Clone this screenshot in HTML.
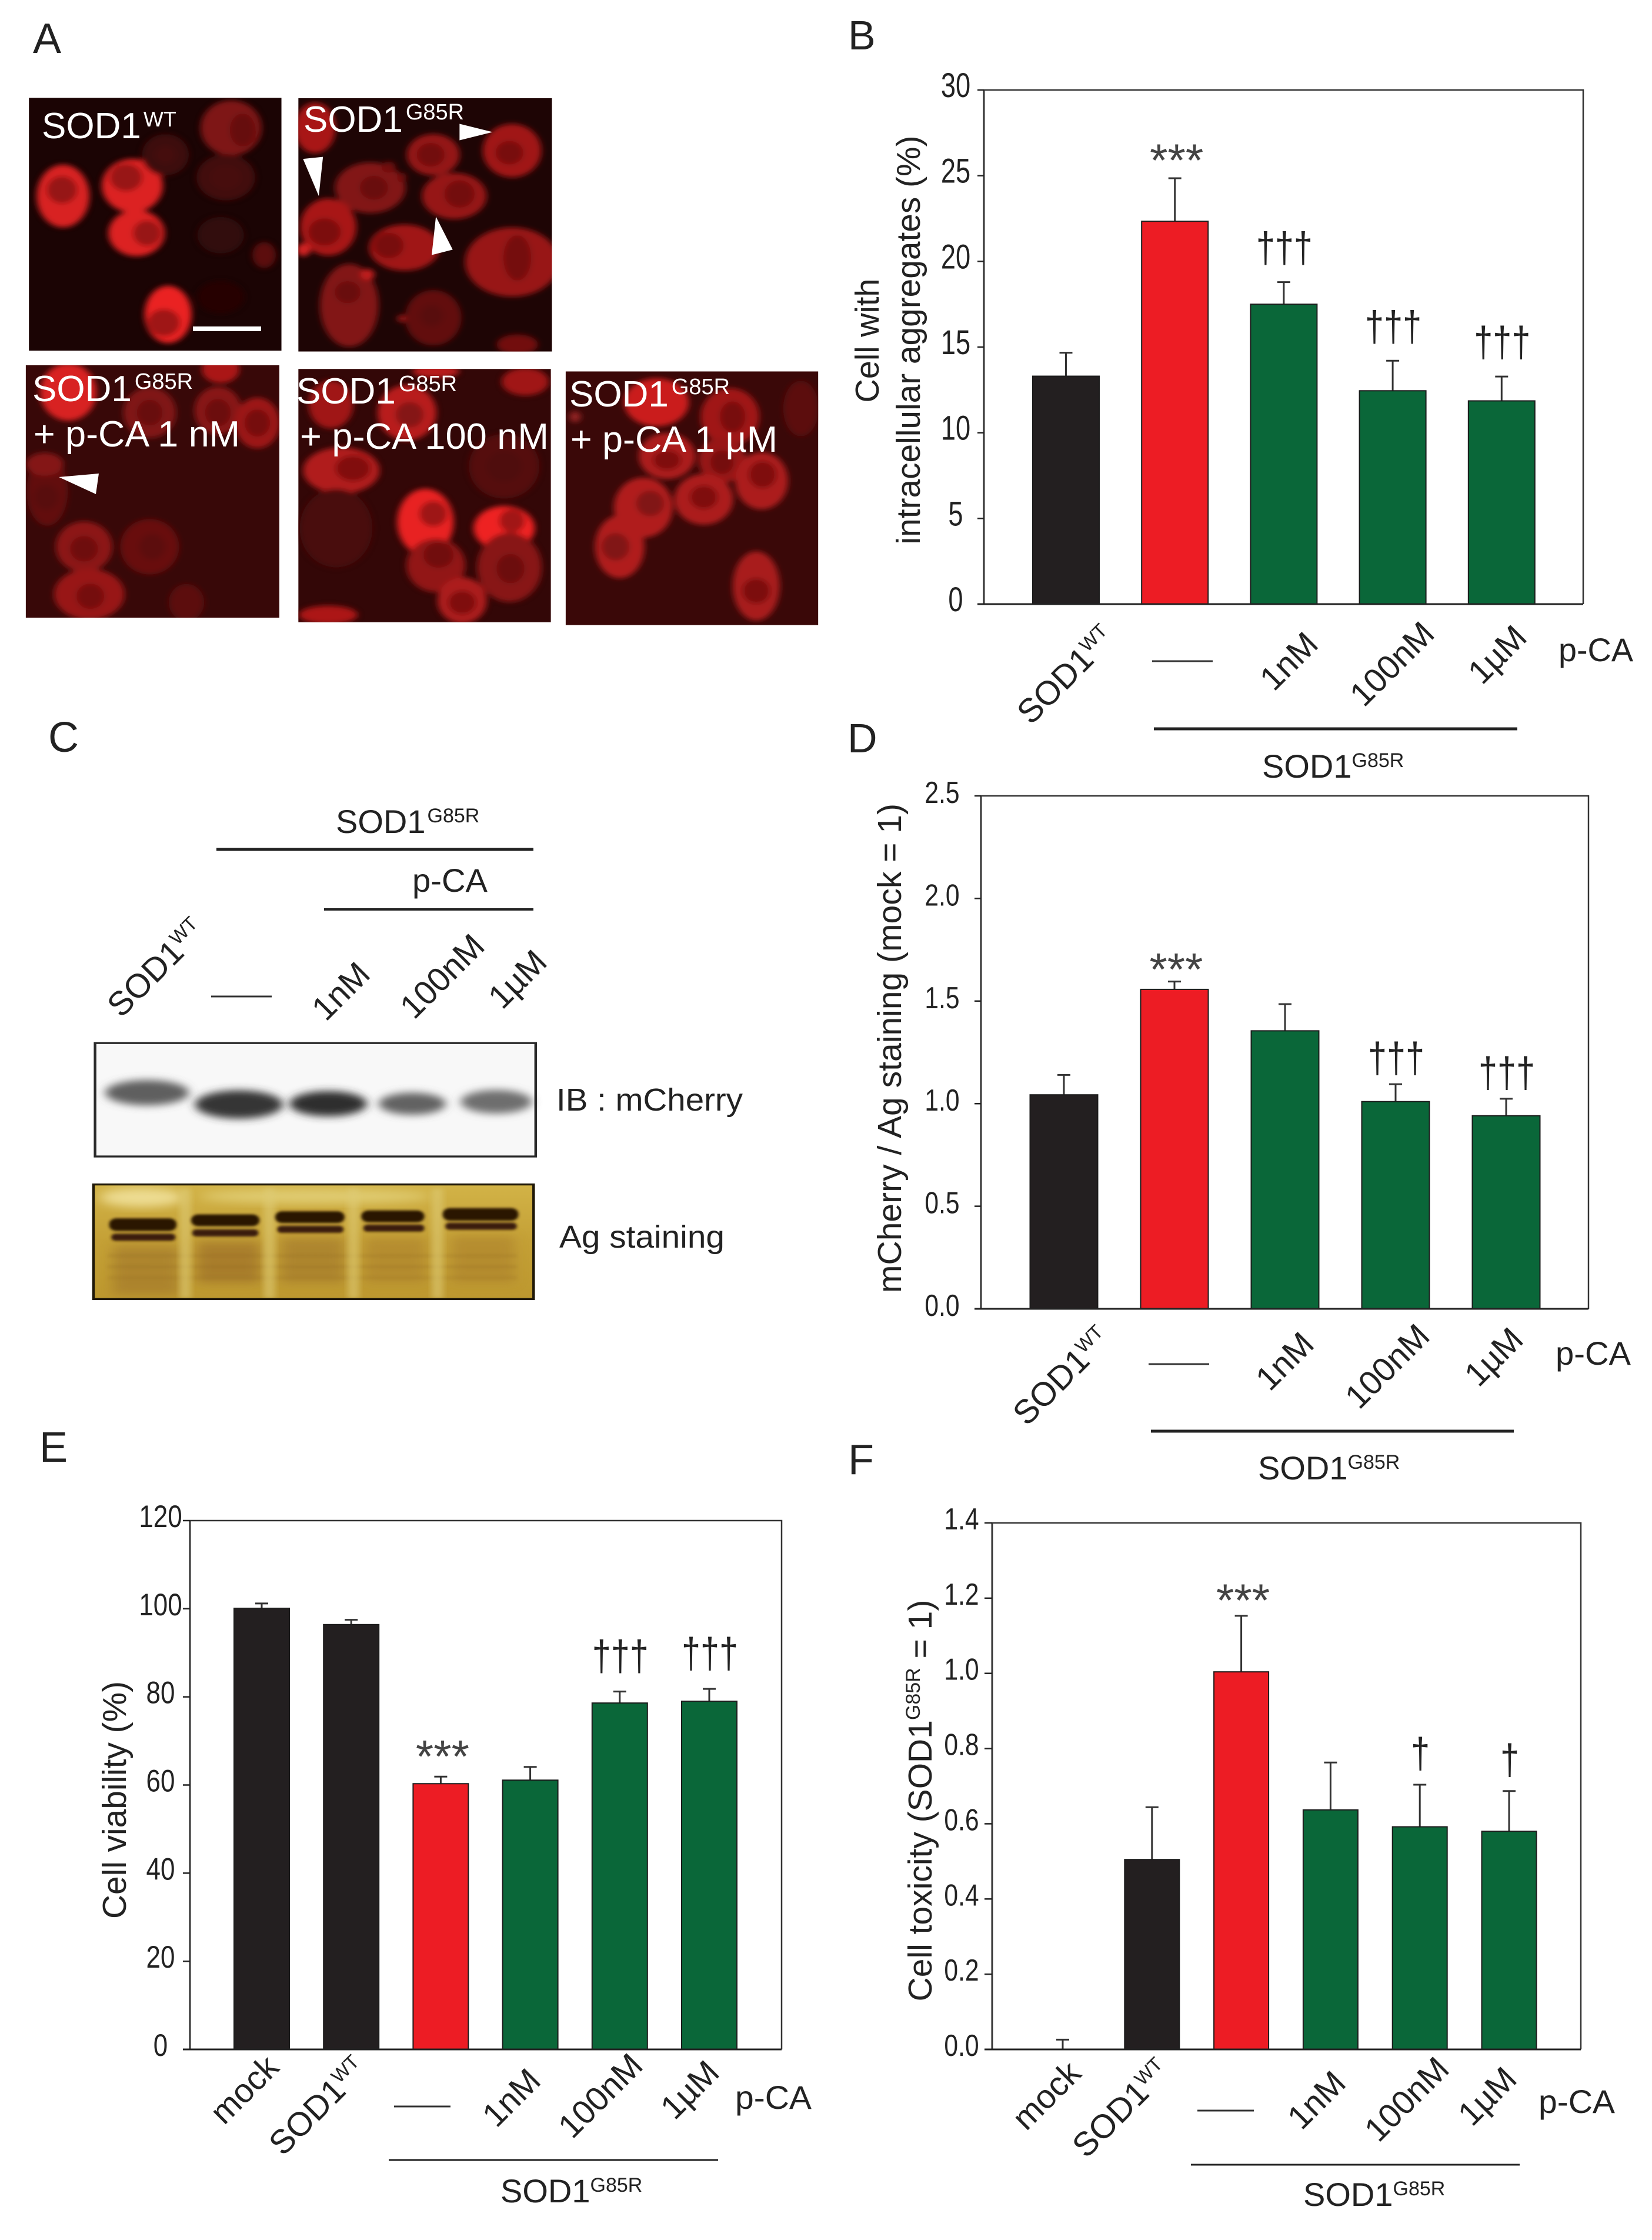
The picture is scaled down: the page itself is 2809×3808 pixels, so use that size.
<!DOCTYPE html>
<html lang="en">
<head>
<meta charset="utf-8">
<title>p-CA effects on SOD1 G85R aggregates and toxicity</title>
<style>
html,body{margin:0;padding:0;background:#fff;}
svg{display:block;}
text{font-family:"Liberation Sans",sans-serif;fill:#222;}
</style>
</head>
<body>
<svg id="fig" xmlns="http://www.w3.org/2000/svg" width="2809" height="3808" viewBox="0 0 2809 3808">
<defs>
<filter id="cellBlur" x="-30%" y="-30%" width="160%" height="160%"><feGaussianBlur stdDeviation="6"/></filter>
<filter id="bandBlur" x="-30%" y="-60%" width="160%" height="220%"><feGaussianBlur stdDeviation="9 10"/></filter>
<filter id="sharpBlur" x="-10%" y="-60%" width="120%" height="220%"><feGaussianBlur stdDeviation="3"/></filter>
<filter id="wideBlur" x="-30%" y="-30%" width="160%" height="160%"><feGaussianBlur stdDeviation="12"/></filter>
<clipPath id="clip1"><rect x="55" y="237" width="481" height="613"/></clipPath>
<clipPath id="clip2"><rect x="568" y="238" width="483" height="614"/></clipPath>
<clipPath id="clip3"><rect x="49" y="885" width="483" height="612"/></clipPath>
<clipPath id="clip4"><rect x="568" y="894" width="481" height="614"/></clipPath>
<clipPath id="clip5"><rect x="1077" y="900" width="481" height="615"/></clipPath>
<clipPath id="clipAg"><rect x="178" y="1215" width="838" height="291"/></clipPath>
<linearGradient id="agGrad" x1="0" y1="0" x2="0" y2="1"><stop offset="0" stop-color="#d2b347"/><stop offset=".5" stop-color="#c4a036"/><stop offset="1" stop-color="#bd982f"/></linearGradient>
</defs>

<!-- Panel letters -->
<text x="56" y="90" font-size="72">A</text>
<text x="1442" y="84" font-size="70">B</text>
<text x="82" y="1278" font-size="72">C</text>
<text x="1441" y="1279" font-size="70">D</text>
<text x="67" y="2485" font-size="72">E</text>
<text x="1442" y="2506" font-size="72">F</text>

<!-- Panel A micrographs -->
<g transform="scale(.893 .7015)">
  <g clip-path="url(#clip1)"><rect x="55" y="237" width="481" height="613" fill="#1b0404"/><g id="cells1" filter="url(#cellBlur)"></g></g>
  <g clip-path="url(#clip2)"><rect x="568" y="238" width="483" height="614" fill="#1e0505"/><g id="cells2" filter="url(#cellBlur)"></g></g>
  <g clip-path="url(#clip3)"><rect x="49" y="885" width="483" height="612" fill="#380808"/><g id="cells3" filter="url(#cellBlur)"></g></g>
  <g clip-path="url(#clip4)"><rect x="568" y="894" width="481" height="614" fill="#330707"/><g id="cells4" filter="url(#cellBlur)"></g></g>
  <g clip-path="url(#clip5)"><rect x="1077" y="900" width="481" height="615" fill="#3a0808"/><g id="cells5" filter="url(#cellBlur)"></g></g>
  <polygon points="875,300 875,340 938,320" fill="#fff"/>
  <polygon points="577,385 615,380 607,475" fill="#fff"/>
  <polygon points="822,618 862,605 830,525" fill="#fff"/>
</g>
<polygon points="100,811 168,805 163,840" fill="#fff"/>
<rect x="328" y="555" width="116" height="8" fill="#fff"/>

<text x="71" y="235" font-size="62" style="fill:#fff">SOD1<tspan font-size="36" dy="-20" dx="4" style="fill:#fff">WT</tspan></text>
<text x="516" y="224" font-size="62" style="fill:#fff">SOD1<tspan font-size="38" dy="-21" dx="5" style="fill:#fff">G85R</tspan></text>
<text x="55" y="682" font-size="62" style="fill:#fff">SOD1<tspan font-size="38" dy="-21" dx="5" style="fill:#fff">G85R</tspan></text>
<text x="57" y="759" font-size="62" textLength="351" lengthAdjust="spacingAndGlyphs" style="fill:#fff">+ p-CA 1 nM</text>
<text x="504" y="686" font-size="62" style="fill:#fff">SOD1<tspan font-size="38" dy="-21" dx="5" style="fill:#fff">G85R</tspan></text>
<text x="510" y="763" font-size="62" textLength="423" lengthAdjust="spacingAndGlyphs" style="fill:#fff">+ p-CA 100 nM</text>
<text x="968" y="691" font-size="62" style="fill:#fff">SOD1<tspan font-size="38" dy="-21" dx="5" style="fill:#fff">G85R</tspan></text>
<text x="970" y="768" font-size="62" textLength="352" lengthAdjust="spacingAndGlyphs" style="fill:#fff">+ p-CA 1 µM</text>

<!-- Panel C blots -->
<text x="571" y="1416" font-size="56">SOD1<tspan font-size="34" dy="-18" dx="3">G85R</tspan></text>
<line x1="368" y1="1444" x2="907" y2="1444" stroke="#222" stroke-width="5"/>
<text x="701" y="1516" font-size="56" textLength="128" lengthAdjust="spacingAndGlyphs">p-CA</text>
<line x1="551" y1="1546" x2="907" y2="1546" stroke="#222" stroke-width="4"/>
<text transform="translate(206 1732) rotate(-45)" font-size="57">SOD1<tspan font-size="33" dy="-20">WT</tspan></text>
<line x1="359" y1="1694" x2="462" y2="1694" stroke="#333" stroke-width="3"/>
<text transform="translate(554 1738) rotate(-45)" font-size="57">1nM</text>
<text transform="translate(704 1735) rotate(-45)" font-size="57">100nM</text>
<text transform="translate(854 1718) rotate(-45)" font-size="57">1µM</text>

<g transform="translate(0 1200) scale(.893 .6696)">
  <rect x="181" y="856" width="839" height="288" fill="#f8f8f8"/>
  <ellipse cx="280" cy="982" rx="80" ry="32" fill="#5e5e5e" filter="url(#bandBlur)"/>
  <ellipse cx="455" cy="1012" rx="84" ry="36" fill="#363636" filter="url(#bandBlur)"/>
  <ellipse cx="625" cy="1010" rx="74" ry="32" fill="#2e2e2e" filter="url(#bandBlur)"/>
  <ellipse cx="785" cy="1010" rx="64" ry="28" fill="#626262" filter="url(#bandBlur)"/>
  <ellipse cx="945" cy="1005" rx="68" ry="30" fill="#6e6e6e" filter="url(#bandBlur)"/>
  <rect x="181" y="856" width="839" height="288" fill="none" stroke="#2a2a2a" stroke-width="5"/>
</g>
<text x="946" y="1888" font-size="54" textLength="317" lengthAdjust="spacingAndGlyphs">IB : mCherry</text>

<g transform="translate(0 1200) scale(.893 .6696)">
  <g clip-path="url(#clipAg)">
    <rect x="178" y="1215" width="838" height="291" fill="url(#agGrad)"/>
    <ellipse cx="270" cy="1248" rx="80" ry="24" fill="#eddc92" filter="url(#wideBlur)"/>
    <ellipse cx="600" cy="1245" rx="220" ry="18" fill="#e0cc72" filter="url(#wideBlur)"/>
    <rect x="215" y="1370" width="125" height="125" fill="#a0762a" opacity=".6" filter="url(#wideBlur)"/>
    <rect x="375" y="1360" width="120" height="105" fill="#9a6a26" opacity=".62" filter="url(#wideBlur)"/>
    <rect x="535" y="1350" width="120" height="115" fill="#a0762a" opacity=".6" filter="url(#wideBlur)"/>
    <rect x="695" y="1350" width="115" height="115" fill="#a87c2c" opacity=".5" filter="url(#wideBlur)"/>
    <rect x="860" y="1345" width="120" height="120" fill="#a87c2c" opacity=".5" filter="url(#wideBlur)"/>
    <rect x="205" y="1392" width="780" height="8" fill="#8a6420" opacity=".16" filter="url(#sharpBlur)"/>
    <rect x="205" y="1420" width="780" height="8" fill="#8a6420" opacity=".16" filter="url(#sharpBlur)"/>
    <rect x="205" y="1448" width="780" height="8" fill="#8a6420" opacity=".14" filter="url(#sharpBlur)"/>
    <rect x="342" y="1225" width="22" height="280" fill="#decb74" opacity=".6" filter="url(#cellBlur)"/>
    <rect x="502" y="1225" width="22" height="280" fill="#decb74" opacity=".6" filter="url(#cellBlur)"/>
    <rect x="662" y="1225" width="22" height="280" fill="#decb74" opacity=".6" filter="url(#cellBlur)"/>
    <rect x="822" y="1225" width="22" height="280" fill="#decb74" opacity=".6" filter="url(#cellBlur)"/>
    <rect x="208" y="1301" width="128" height="32" rx="14" fill="#2a1405" filter="url(#sharpBlur)"/>
    <rect x="364" y="1291" width="130" height="30" rx="14" fill="#2a1405" filter="url(#sharpBlur)"/>
    <rect x="524" y="1283" width="132" height="30" rx="14" fill="#2a1405" filter="url(#sharpBlur)"/>
    <rect x="688" y="1281" width="120" height="30" rx="14" fill="#2a1405" filter="url(#sharpBlur)"/>
    <rect x="843" y="1275" width="144" height="32" rx="14" fill="#2a1405" filter="url(#sharpBlur)"/>
    <rect x="212" y="1340" width="122" height="18" rx="8" fill="#3a1d08" filter="url(#sharpBlur)"/>
    <rect x="366" y="1329" width="126" height="18" rx="8" fill="#3a1d08" filter="url(#sharpBlur)"/>
    <rect x="528" y="1320" width="126" height="18" rx="8" fill="#3a1d08" filter="url(#sharpBlur)"/>
    <rect x="692" y="1317" width="116" height="18" rx="8" fill="#3a1d08" filter="url(#sharpBlur)"/>
    <rect x="848" y="1312" width="136" height="18" rx="8" fill="#3a1d08" filter="url(#sharpBlur)"/>
  </g>
  <rect x="178" y="1215" width="838" height="291" fill="none" stroke="#1f1808" stroke-width="5"/>
</g>
<text x="951" y="2121" font-size="54" textLength="281" lengthAdjust="spacingAndGlyphs">Ag staining</text>

<g id="charts"></g>
</svg>

<script>
// ---- Chart B data: cells with intracellular aggregates ----
const categoriesB = ['SOD1WT', '—', '1nM', '100nM', '1µM'];
const valuesB = [13.3, 22.34, 17.5, 12.45, 11.86];
const errorTopsB = [14.67, 24.85, 18.79, 14.2, 13.28];
const statMarksB = ['', '***', '†††', '†††', '†††'];
const tickLabelsB = ['0', '5', '10', '15', '20', '25', '30'];
// ---- Chart D data: mCherry / Ag staining ----
const categoriesD = ['SOD1WT', '—', '1nM', '100nM', '1µM'];
const valuesD = [1.043, 1.557, 1.355, 1.01, 0.941];
const errorTopsD = [1.14, 1.595, 1.485, 1.095, 1.024];
const statMarksD = ['', '***', '', '†††', '†††'];
const tickLabelsD = ['0.0', '0.5', '1.0', '1.5', '2.0', '2.5'];
// ---- Chart E data: cell viability ----
const categoriesE = ['mock', 'SOD1WT', '—', '1nM', '100nM', '1µM'];
const valuesE = [100.1, 96.4, 60.3, 61.1, 78.6, 79];
const errorTopsE = [101.2, 97.5, 61.9, 64.1, 81.2, 81.8];
const statMarksE = ['', '', '***', '', '†††', '†††'];
const tickLabelsE = ['0', '20', '40', '60', '80', '100', '120'];
// ---- Chart F data: cell toxicity ----
const categoriesF = ['mock', 'SOD1WT', '—', '1nM', '100nM', '1µM'];
const valuesF = [0, 0.505, 1.004, 0.637, 0.592, 0.58];
const errorTopsF = [0.026, 0.644, 1.153, 0.763, 0.704, 0.687];
const statMarksF = ['', '', '***', '', '†', '†'];
const tickLabelsF = ['0.0', '0.2', '0.4', '0.6', '0.8', '1.0', '1.2', '1.4'];

const BLACK = '#231f20', RED = '#ed1c24', GREEN = '#0a6739';
const NS = 'http://www.w3.org/2000/svg';

function mk(tag, attrs, parent) {
  const el = document.createElementNS(NS, tag);
  for (const k in attrs) el.setAttribute(k, attrs[k]);
  
  if (parent) parent.appendChild(el);
  return el;
}

function addSuper(el, str, size, dy) {
  const sup = document.createElementNS(NS, 'tspan');
  sup.setAttribute('font-size', size);
  sup.setAttribute('dy', dy);
  
  
  sup.textContent = str;
  el.appendChild(sup);
}

function setLabel(el, str, supSize, supDy) {
  if (str === 'SOD1WT' || str === 'SOD1G85R') {
    el.textContent = 'SOD1';
    addSuper(el, str.slice(4), supSize, supDy);
  } else {
    el.textContent = str;
  }
}

function drawChart(cfg) {
  const root = document.getElementById('charts');
  const g = mk('g', {}, root);
  
  const f = cfg.frame;
  const maxV = Number(cfg.ticks[cfg.ticks.length - 1]);
  const minV = Number(cfg.ticks[0]);
  const yOf = v => f.b - (v - minV) / (maxV - minV) * (f.b - f.t);
  const xOf = i => cfg.c0 + i * cfg.step;

  // bars
  cfg.values.forEach((v, i) => {
    const label = cfg.categories[i];
    const color = label === '—' ? RED : (/nM|µM/.test(label) ? GREEN : BLACK);
    const et = yOf(cfg.errorTops[i]);
    const top = yOf(v);
    const eb = mk('line', { x1: xOf(i), x2: xOf(i), y1: et, y2: top, stroke: '#333', 'stroke-width': 3 }, g);
    
    const cap = mk('line', { x1: xOf(i) - 11, x2: xOf(i) + 11, y1: et, y2: et, stroke: '#333', 'stroke-width': 3 }, g);
    
    if (v > minV) {
      const bar = mk('rect', { x: xOf(i) - cfg.bw / 2, y: top, width: cfg.bw, height: f.b - top, fill: color, stroke: '#1c1c1c', 'stroke-width': 2 }, g);
      
    }
    const mark = cfg.marks[i];
    if (mark) {
      const isStar = mark[0] === '*';
      const cy = et - (isStar ? cfg.starGap : cfg.daggerGap);
      const t = mk('text', isStar
        ? { x: xOf(i) + 3, y: cy + 46, 'text-anchor': 'middle', 'font-size': 78 }
        : { transform: `translate(${xOf(i) + 1} ${cy + 18}) scale(.8 1)`, 'text-anchor': 'middle', 'font-size': 72 }, g);
      
      t.style.fill = isStar ? '#444' : '#222';
      t.textContent = mark;
    }
  });

  // frame
  const fr = mk('path', { d: `M${f.l} ${f.t}H${f.r}V${f.b}`, fill: 'none', stroke: '#333', 'stroke-width': 2.5 }, g);
  
  const ya = mk('line', { x1: f.l, x2: f.l, y1: f.t, y2: f.b, stroke: '#333', 'stroke-width': 3 }, g);
  
  const xa = mk('line', { x1: cfg.tickLeft, x2: f.r, y1: f.b, y2: f.b, stroke: '#222', 'stroke-width': 3 }, g);
  

  // ticks
  cfg.ticks.forEach(lbl => {
    const y = yOf(Number(lbl));
    const tick = mk('line', { x1: cfg.tickLeft, x2: f.l, y1: y, y2: y, stroke: '#222', 'stroke-width': 2.5 }, g);
    
    const t = mk('text', {
      transform: `translate(${cfg.tickX} ${y + cfg.tickBase}) scale(${cfg.tickSx} 1)`,
      'text-anchor': 'middle', 'font-size': cfg.tickFont
    }, g);
    
    t.textContent = lbl;
  });

  // y title
  cfg.yTitle.forEach(line => {
    const attrs = {
      transform: `translate(${line.x} ${line.cy}) rotate(-90)`,
      'text-anchor': 'middle', 'font-size': 57
    };
    if (line.len) { attrs.textLength = line.len; attrs.lengthAdjust = 'spacingAndGlyphs'; }
    const t = mk('text', attrs, g);
    
    t.textContent = line.text;
    if (line.sup) {
      addSuper(t, line.sup, 34, -20);
      const tail = document.createElementNS(NS, 'tspan');
      tail.setAttribute('dy', 20);
      
      
      tail.textContent = line.tail;
      t.appendChild(tail);
    }
  });

  // category labels
  cfg.categories.forEach((c, i) => {
    const a = cfg.labelAnchors[i];
    if (c === '—') {
      const d = mk('line', { x1: a[0], x2: a[1], y1: a[2], y2: a[2], stroke: '#333', 'stroke-width': 3 }, g);
      
    } else {
      const t = mk('text', { transform: `translate(${a[0]} ${a[1]}) rotate(-45)`, 'font-size': 57 }, g);
      
      setLabel(t, c, 33, -20);
    }
  });

  // p-CA label
  const p = cfg.pca;
  const pt = mk('text', { x: p.x, y: p.y, 'font-size': 56, textLength: p.len, lengthAdjust: 'spacingAndGlyphs' }, g);
  
  pt.textContent = 'p-CA';

  // group line + label
  const gl = cfg.group;
  const line = mk('line', { x1: gl.x1, x2: gl.x2, y1: gl.y, y2: gl.y, stroke: '#222', 'stroke-width': gl.w }, g);
  
  const gt = mk('text', { x: gl.tx, y: gl.ty, 'font-size': 56 }, g);
  
  setLabel(gt, 'SOD1G85R', 34, -18);
}

drawChart({
  name: 'chart-b-aggregates', categories: categoriesB, values: valuesB, errorTops: errorTopsB, marks: statMarksB, ticks: tickLabelsB,
  frame: { l: 1673, r: 2692, t: 153, b: 1027 }, c0: 1812.5, step: 185.2, bw: 113,
  tickLeft: 1662, tickX: 1625, tickBase: 12, tickFont: 58, tickSx: 0.78, starGap: 50, daggerGap: 52,
  yTitle: [{ text: 'Cell with', x: 1494, cy: 579, len: 211 }, { text: 'intracellular aggregates (%)', x: 1564, cy: 578, len: 695 }],
  labelAnchors: [[1753, 1234], [1959, 2062, 1124], [2166, 1177], [2319, 1204], [2520, 1166]],
  pca: { x: 2650, y: 1124, len: 127 },
  group: { x1: 1962, x2: 2580, y: 1239, w: 5, tx: 2146, ty: 1322 }
});
drawChart({
  name: 'chart-d-mcherry-ratio', categories: categoriesD, values: valuesD, errorTops: errorTopsD, marks: statMarksD, ticks: tickLabelsD,
  frame: { l: 1668, r: 2701, t: 1353, b: 2225 }, c0: 1809, step: 188, bw: 115,
  tickLeft: 1657, tickX: 1602, tickBase: 12, tickFont: 52, tickSx: 0.82, starGap: 40, daggerGap: 38,
  yTitle: [{ text: 'mCherry / Ag staining (mock = 1)', x: 1532, cy: 1782, len: 832 }],
  labelAnchors: [[1746, 2426], [1953, 2056, 2319], [2159, 2367], [2311, 2398], [2514, 2360]],
  pca: { x: 2645, y: 2320, len: 128 },
  group: { x1: 1957, x2: 2574, y: 2433, w: 5, tx: 2139, ty: 2515 }
});
drawChart({
  name: 'chart-e-viability', categories: categoriesE, values: valuesE, errorTops: errorTopsE, marks: statMarksE, ticks: tickLabelsE,
  frame: { l: 323, r: 1329, t: 2585, b: 3484 }, c0: 445, step: 152.2, bw: 94,
  tickLeft: 311, tickX: 273, tickBase: 11, tickFont: 53, tickSx: 0.83, starGap: 54, daggerGap: 54,
  yTitle: [{ text: 'Cell viability (%)', x: 214, cy: 3060, len: 404 }],
  labelAnchors: [[381, 3614], [481, 3667], [670, 766, 3581], [844, 3619], [973, 3638], [1147, 3606]],
  pca: { x: 1250, y: 3585, len: 130 },
  group: { x1: 661, x2: 1221, y: 3672, w: 3, tx: 851, ty: 3744 }
});
drawChart({
  name: 'chart-f-toxicity', categories: categoriesF, values: valuesF, errorTops: errorTopsF, marks: statMarksF, ticks: tickLabelsF,
  frame: { l: 1687, r: 2688, t: 2589, b: 3484 }, c0: 1807, step: 151.8, bw: 93,
  tickLeft: 1674, tickX: 1635, tickBase: 11, tickFont: 52, tickSx: 0.82, starGap: 46, daggerGap: 47,
  yTitle: [{ text: 'Cell toxicity (SOD1', sup: 'G85R', tail: ' = 1)', x: 1584, cy: 3061 }],
  labelAnchors: [[1745, 3624], [1847, 3671], [2036, 2132, 3588], [2213, 3623], [2344, 3644], [2503, 3617]],
  pca: { x: 2616, y: 3592, len: 130 },
  group: { x1: 2025, x2: 2584, y: 3680, w: 3, tx: 2216, ty: 3750 }
});

// ---- Micrograph artwork (illustrative, not chart data) ----
const photoCells = {
  cells1: [
    [120,475,45,68,'#d82020',118,460,26,30],[252,450,52,58,'#dc2222',240,430,28,30],[260,565,48,50,'#dc2020',280,565,24,28],
    [320,762,40,62,'#ea2424',312,782,28,30],[440,310,52,60,'#7e1414',462,315,22,36],[315,375,40,45,'#3e0808',315,375,18,20],
    [430,430,50,50,'#420909',430,430,26,26],[420,570,40,40,'#320707',0,0,0,0],[503,618,20,28,'#5c0d0d',0,0,0,0],[420,720,40,35,'#280505',0,0,0,0]
  ],
  cells2: [
    [600,310,35,55,'#a81616',0,0,0,0],[825,375,45,45,'#941414',820,375,24,26],[975,365,50,58,'#a01616',970,370,24,26],
    [705,455,60,55,'#821212',712,455,24,26],[865,475,55,50,'#961414',875,470,26,30],[625,550,48,62,'#a81818',618,562,28,30],
    [770,600,60,50,'#a01616',740,595,26,28],[975,635,80,75,'#981616',985,625,24,50],[665,740,50,90,'#821212',662,708,22,24],
    [825,770,48,60,'#621010',822,765,20,24],[985,835,35,22,'#721010',0,0,0,0],[578,605,12,14,'#d02020',0,0,0,0],
    [700,665,12,12,'#c01c1c',0,0,0,0],[740,405,12,12,'#701010',0,0,0,0],[765,430,8,10,'#701010',0,0,0,0],[765,772,8,8,'#901414',0,0,0,0]
  ],
  cells3: [
    [130,950,48,62,'#d82020',0,0,0,0],[285,1000,45,55,'#801212',285,1000,22,28],[415,995,40,52,'#881212',415,1000,22,30],
    [490,1025,38,55,'#9c1616',490,1025,22,30],[420,895,32,30,'#aa1616',0,0,0,0],[90,1190,35,75,'#621010',88,1205,22,28],
    [85,1125,32,25,'#841212',0,0,0,0],[160,1325,48,55,'#8c1414',160,1330,24,28],[285,1325,50,60,'#681010',290,1325,22,28],
    [170,1440,60,55,'#981616',172,1445,24,28],[355,1460,30,40,'#5c0e0e',0,0,0,0]
  ],
  cells4: [
    [650,1140,65,50,'#b01a1a',672,1135,30,28],[775,1000,50,60,'#b81e1e',780,1005,24,28],[630,980,38,52,'#a01616',0,0,0,0],
    [810,1265,48,72,'#e82424',825,1245,24,28],[960,1280,52,48,'#ee2424',975,1262,22,26],[830,1370,50,58,'#921616',835,1345,26,28],
    [970,1375,55,75,'#881414',972,1378,24,32],[880,1455,42,50,'#ac1a1a',880,1460,24,26],[960,1130,60,70,'#540e0e',960,1130,30,34],
    [640,1280,62,85,'#4a0a0a',0,0,0,0],[1000,925,40,30,'#a01616',0,0,0,0],[830,900,40,14,'#b81e1e',0,0,0,0],[625,1490,50,20,'#ac1616',0,0,0,0]
  ],
  cells5: [
    [1250,975,55,52,'#ca1e1e',0,0,0,0],[1390,1010,50,62,'#a01616',1395,1010,22,34],[1270,1105,48,50,'#ac1a1a',1270,1115,24,22],
    [1375,1115,40,50,'#981616',1375,1120,20,26],[1450,1165,45,62,'#ac1a1a',1452,1150,24,30],[1340,1210,50,55,'#ac1a1a',1340,1205,24,26],
    [1225,1230,50,65,'#b01c1c',1238,1220,24,28],[1180,1325,42,68,'#b01c1c',1172,1325,24,30],[1440,1420,40,75,'#a81a1a',1440,1432,24,28],
    [1525,990,30,60,'#5c0e0e',0,0,0,0],[1095,1010,10,12,'#902020',0,0,0,0]
  ]
};
Object.keys(photoCells).forEach(id => {
  const host = document.getElementById(id);
  photoCells[id].forEach(c => {
    const body = mk('ellipse', { cx: c[0], cy: c[1], rx: c[2] * 1.12, ry: c[3] * 1.12, fill: c[4] }, host);
    
    if (c[7] > 0) {
      const nuc = mk('ellipse', { cx: c[5], cy: c[6], rx: c[7] * 1.1, ry: c[8] * 1.1, fill: '#4e0808', opacity: 0.48 }, host);
      
    }
  });
});
</script>
</body>
</html>
